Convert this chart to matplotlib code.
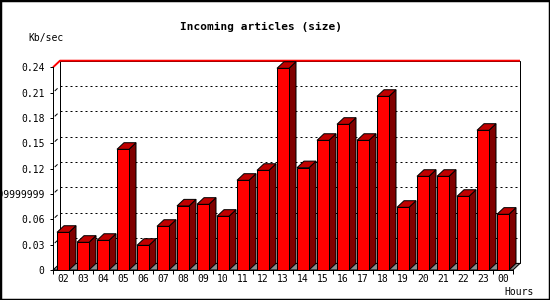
import matplotlib
matplotlib.use("Agg")
import matplotlib.pyplot as plt
from matplotlib.patches import Polygon, Rectangle

hours = ["02", "03", "04", "05", "06", "07", "08", "09", "10", "11", "12", "13",
         "14", "15", "16", "17", "18", "19", "20", "21", "22", "23", "00"]
values = [0.0446, 0.0328, 0.0351, 0.1429, 0.0292, 0.0517, 0.0758, 0.0778, 0.0636,
          0.1062, 0.1180, 0.2388, 0.1211, 0.1535, 0.1725, 0.1535, 0.2056, 0.0742,
          0.1109, 0.1109, 0.0872, 0.1654, 0.0660]
yticks = [0, 0.03, 0.06, 0.09, 0.12, 0.15, 0.18, 0.21, 0.24]
ytick_labels = ["0", "0.03", "0.06", "0.08999999999", "0.12", "0.15", "0.18", "0.21", "0.24"]

plt.rcParams['lines.scale_dashes'] = False
FONT = "DejaVu Sans Mono"

fig = plt.figure(figsize=(5.5, 3.0), dpi=100)
W, H = 550, 300
ax = fig.add_axes([53 / W, 30 / H, 460 / W, 202.7 / H])
n = len(values)
ymax = 0.24
ax.set_xlim(0, n)
ax.set_ylim(0, ymax)

# depth offsets (7 px to the right, ~6.6 px upward)
DX = 7 / 20.0
DY = 6.6 * ymax / 202.7
PX = 0.72  # one pixel in points

# back wall
ax.add_patch(Polygon([(DX, DY), (n + DX, DY), (n + DX, ymax + DY), (DX, ymax + DY)],
                     closed=True, facecolor="white", edgecolor="black", lw=PX,
                     clip_on=False, zorder=1))
for v in yticks[1:-1]:
    ax.plot([DX, n + DX], [v + DY, v + DY], color="black", lw=PX,
            linestyle=(0, (1.44, 2.16)), clip_on=False, zorder=2)
    # small slash on the left side wall
    ax.plot([0.3 * DX, 0.6 * DX], [v + 0.3 * DY, v + 0.6 * DY], color="black",
            lw=PX, clip_on=False, zorder=2)
# top red line
ax.plot([0, DX, n + DX], [ymax, ymax + DY, ymax + DY], color="red", lw=1.4,
        clip_on=False, zorder=3, solid_capstyle="butt")

# floor
ax.add_patch(Polygon([(0, 0), (n, 0), (n + DX, DY), (DX, DY)], closed=True,
                     facecolor="#8c8c8c", edgecolor="black", lw=PX,
                     clip_on=False, zorder=2))

# bars
x0 = 0.2
bw = 0.6
for i, v in enumerate(values):
    l = i + x0
    r = l + bw
    ax.add_patch(Polygon([(r, 0), (r + DX, DY), (r + DX, v + DY), (r, v)], closed=True,
                         facecolor="#800000", edgecolor="black", lw=PX,
                         clip_on=False, zorder=4))
    ax.add_patch(Polygon([(l, v), (r, v), (r + DX, v + DY), (l + DX, v + DY)], closed=True,
                         facecolor="#c00000", edgecolor="black", lw=PX,
                         clip_on=False, zorder=4))
ax.bar([i + x0 for i in range(n)], values, width=bw, align="edge",
       color="#ff0000", edgecolor="black", linewidth=PX, zorder=5, clip_on=False)

# axes styling
for s in ["top", "right"]:
    ax.spines[s].set_visible(False)
for s in ["left", "bottom"]:
    ax.spines[s].set_linewidth(PX)
    ax.spines[s].set_zorder(6)
ax.patch.set_visible(False)

ax.set_yticks(yticks)
ax.set_yticklabels(ytick_labels, fontsize=7, family=FONT)
ax.tick_params(axis="y", length=2.5, width=PX, pad=3.6)

ax.set_xticks(range(n + 1))
ax.set_xticklabels([])
ax.set_xticks([i + 0.5 for i in range(n)], minor=True)
ax.set_xticklabels(hours, minor=True, fontsize=7, family=FONT)
ax.tick_params(axis="x", which="major", length=2.9, width=PX)
ax.tick_params(axis="x", which="minor", length=0, pad=3.2)

fig.text(261 / W, 1 - 27 / H, "Incoming articles (size)", ha="center", va="center",
         fontsize=8, fontweight="bold", family=FONT)
fig.text(28 / W, 1 - 37.5 / H, "Kb/sec", ha="left", va="center", fontsize=7, family=FONT)
fig.text(504 / W, 1 - 292 / H, "Hours", ha="left", va="center", fontsize=7, family=FONT)

# outer frame
fig.patches.append(Rectangle((0, 0), 1, 1, transform=fig.transFigure, fill=False,
                             edgecolor="black", lw=2.5, zorder=10))

fig.savefig("out.png", dpi=100)
